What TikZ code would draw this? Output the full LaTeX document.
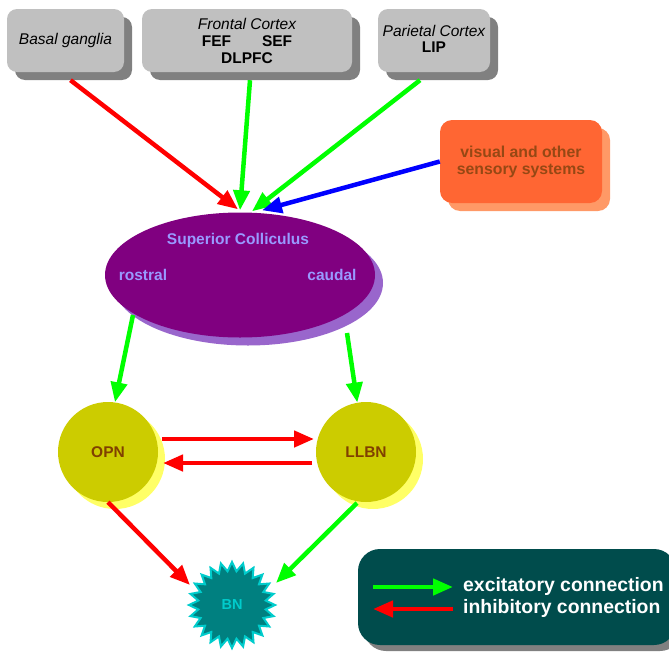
\documentclass[tikz,border=0pt]{standalone}
\usepackage{fontspec}
\setmainfont{Liberation Sans}
\usetikzlibrary{shapes.geometric,shapes.symbols,arrows.meta,shadows,calc}
\definecolor{boxgray}{RGB}{192,192,192}
\definecolor{shgray}{RGB}{128,128,128}
\definecolor{visfill}{RGB}{255,102,51}
\definecolor{visshadow}{RGB}{255,153,102}
\definecolor{vistext}{RGB}{150,72,20}
\definecolor{scpurple}{RGB}{128,0,128}
\definecolor{scshadow}{RGB}{153,102,204}
\definecolor{sctextc}{RGB}{153,153,255}
\definecolor{nucfill}{RGB}{204,204,0}
\definecolor{nucshadow}{RGB}{255,255,102}
\definecolor{nuctext}{RGB}{128,64,0}
\definecolor{bnfill}{RGB}{0,128,128}
\definecolor{bnline}{RGB}{0,204,204}
\definecolor{legfill}{RGB}{0,76,76}
\definecolor{exc}{RGB}{0,255,0}
\definecolor{inh}{RGB}{255,0,0}
\definecolor{sens}{RGB}{0,0,255}
\begin{document}
\begin{tikzpicture}[x=1pt,y=-1pt,
  font=\fontsize{15.5}{18}\selectfont,
  graybox/.style={fill=boxgray, rounded corners=10pt, inner sep=0pt, align=center,
    general shadow={fill=shgray, shadow xshift=8pt, shadow yshift=-8pt}},
  visbox/.style={fill=visfill, rounded corners=12pt, inner sep=0pt, align=center,
    text=vistext, font=\fontsize{15.8}{17}\selectfont\bfseries,
    general shadow={fill=visshadow, shadow xshift=8pt, shadow yshift=-8pt}},
  scnode/.style={ellipse, fill=scpurple, minimum width=270pt, minimum height=125pt,
    general shadow={fill=scshadow, shadow xshift=8pt, shadow yshift=-8pt}},
  sctext/.style={text=sctextc, font=\fontsize{15.5}{18}\selectfont\bfseries},
  nucleus/.style={circle, fill=nucfill, minimum size=100pt, inner sep=0pt,
    text=nuctext, font=\fontsize{15.5}{18}\selectfont\bfseries,
    general shadow={fill=nucshadow, shadow xshift=7pt, shadow yshift=-7pt}},
  bnnode/.style={starburst, starburst points=24, starburst point height=9pt,
    random starburst=0, fill=bnfill, draw=bnline, line width=2pt,
    minimum width=86pt, minimum height=86pt, inner sep=0pt,
    text=bnline, font=\fontsize{14.5}{17}\selectfont\bfseries},
  legbox/.style={fill=legfill, rounded corners=22pt, inner sep=0pt,
    general shadow={fill=shgray, shadow xshift=6pt, shadow yshift=-6pt}},
  legtext/.style={text=white, font=\fontsize{19.4}{22}\selectfont\bfseries, anchor=west, inner sep=0pt},
  conn/.style={line width=4.5pt, -{Triangle[length=20pt,width=16pt]}},
  excit/.style={conn, draw=exc},
  inhib/.style={conn, draw=inh},
  sensory/.style={conn, draw=sens}]
\useasboundingbox (0,0) rectangle (669,653);

% top boxes
\node[graybox, minimum width=117pt, minimum height=63pt] (bg) at (65.5,40.5) {\itshape Basal ganglia};
\node[graybox, minimum width=210pt, minimum height=63pt] (fc) at (247,40.5)
  {{\itshape Frontal Cortex}\\[-1pt]\textbf{FEF}\hspace{2em}\textbf{SEF}\\[-1pt]\textbf{DLPFC}};
\node[graybox, minimum width=112pt, minimum height=63pt] (pc) at (434,40.5)
  {\raisebox{4pt}{\begin{tabular}{@{}c@{}}{\itshape Parietal Cortex}\\[-2pt]\textbf{LIP}\end{tabular}}};
\node[visbox, minimum width=162pt, minimum height=83pt] (vis) at (521,161.5)
  {visual and other\\sensory systems};

% superior colliculus
\node[scnode] (sc) at (240,275) {};
\node[sctext] (sclabel) at (238,240) {Superior Colliculus};
\node[sctext] (rostral) at (143,275) {rostral};
\node[sctext] (caudal) at (332,275) {caudal};

% nuclei
\node[nucleus] (opn) at (108,452) {OPN};
\node[nucleus] (llbn) at (366,452) {LLBN};
\node[bnnode] (bn) at (232,605) {BN};

% legend
\node[legbox, minimum width=318pt, minimum height=96pt] (leg) at (517,597) {};
\coordinate (exs) at (373,587);
\coordinate (exe) at (453,587);
\coordinate (ins) at (453,609);
\coordinate (ine) at (373,609);
\node[legtext] (lexc) at (463,586) {excitatory connection};
\node[legtext] (linh) at (463,608) {inhibitory connection};
\draw[excit] (exs) -- (exe);
\draw[inhib] (ins) -- (ine);

% connections to SC
\draw[inhib] ($(bg.south)+(5,8)$) -- ($(sc.north)+(-2,-3)$);
\draw[excit] ($(fc.south)+(3,8)$) -- ($(sc.north)+(0,-2)$);
\draw[excit] ($(pc.south)+(-14,8)$) -- ($(sc.north)+(12,-1)$);
\draw[sensory] (vis.west) -- ($(sc.north)+(22,-2)$);

% SC to nuclei
\draw[excit] ($(sc.center)+(-107,40)$) -- (opn.82);
\draw[excit] ($(sc.center)+(107,58)$) -- (llbn.100);

% OPN <-> LLBN
\draw[inhib] ($(opn.center)+(54,-13)$) -- ($(llbn.center)+(-52,-13)$);
\draw[inhib] ($(llbn.center)+(-54,11)$) -- ($(opn.center)+(55,11)$);

% to BN
\draw[inhib] (opn.south) -- ($(bn.center)+(-42,-20)$);
\draw[excit] ($(llbn.center)+(-9,51)$) -- ($(bn.center)+(44,-22)$);
\end{tikzpicture}
\end{document}
